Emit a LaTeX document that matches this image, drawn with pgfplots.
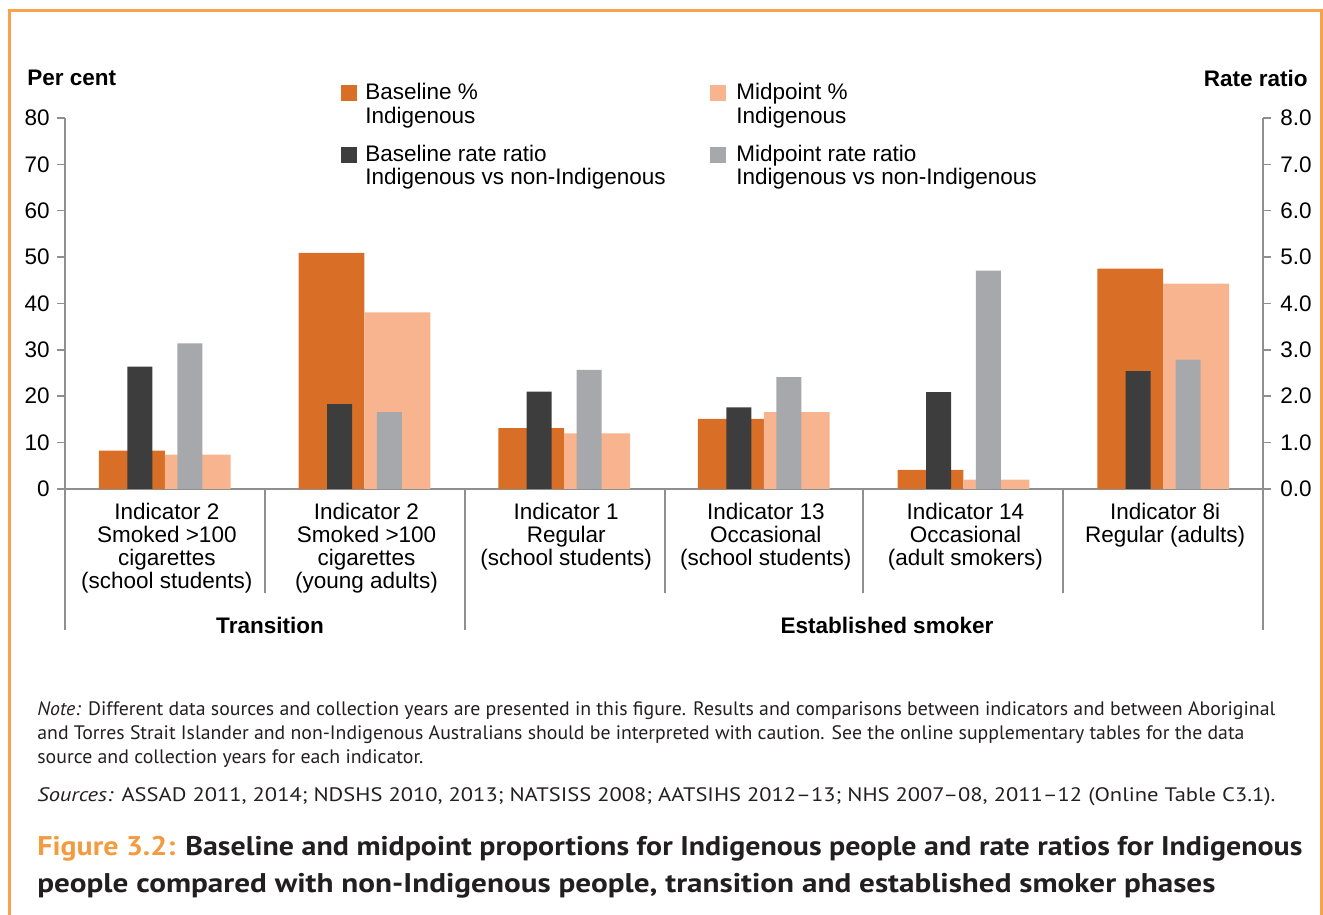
\documentclass[border=0pt]{standalone}
\usepackage{fontspec}
\setmainfont{Liberation Sans}
\newfontfamily\notefont[Ligatures=TeX]{PT Sans}
\usepackage{graphicx}
\usepackage{pgfplots}
\pgfplotsset{compat=1.18}

\definecolor{orangeB}{HTML}{D96E27}
\definecolor{peach}{HTML}{F8B48E}
\definecolor{darkbar}{HTML}{3D3D3D}
\definecolor{greybar}{HTML}{A7A8AB}
\definecolor{axisgray}{HTML}{8F8F8F}
\definecolor{frameor}{HTML}{F7A24C}
\definecolor{figorange}{HTML}{F39B3E}
\definecolor{notegray}{HTML}{231F20}

\newcommand{\cf}{\fontsize{11.25pt}{11.5pt}\selectfont}

\begin{document}
\begin{tikzpicture}
\begin{axis}[
  at={(0,0)}, anchor=south west, scale only axis,
  width=599pt, height=185.5pt,
  xmin=-0.5, xmax=5.5, ymin=0, ymax=80,
  axis x line*=bottom, axis y line*=left,
  axis line style={draw=axisgray, line width=1pt, -},
  ytick={0,10,...,80},
  xtick={0,1,2,3,4,5},
  xticklabels={{Indicator 2\\Smoked >100\\cigarettes\\(school students)},
               {Indicator 2\\Smoked >100\\cigarettes\\(young adults)},
               {Indicator 1\\Regular\\(school students)},
               {Indicator 13\\Occasional\\(school students)},
               {Indicator 14\\Occasional\\(adult smokers)},
               {Indicator 8i\\Regular (adults)}},
  x tick label style={align=center, anchor=north, inner sep=0pt, yshift=-3pt, xshift=1pt, font=\cf},
  y tick label style={anchor=east, inner sep=0pt, xshift=-3.5pt, font=\cf},
  tick align=outside, major tick length=4pt,
  y tick style={draw=axisgray, line width=0.75pt},
  x tick style={draw=none},
  /pgf/number format/assume math mode=true,
  clip=false,
]
\addplot[ybar, bar width=0.33, bar shift=-0.165, fill=orangeB, draw=none]
  coordinates {(0,8.3) (1,50.9) (2,13.1) (3,15.1) (4,4.1) (5,47.5)};
\addplot[ybar, bar width=0.33, bar shift=0.165, fill=peach, draw=none]
  coordinates {(0,7.4) (1,38.1) (2,12.0) (3,16.6) (4,2.0) (5,44.3)};
\end{axis}
\begin{axis}[
  at={(0,0)}, anchor=south west, scale only axis,
  width=599pt, height=185.5pt,
  xmin=-0.5, xmax=5.5, ymin=0, ymax=8,
  axis y line*=right, axis x line=none,
  axis line style={draw=axisgray, line width=1pt, -},
  ytick={0,1,...,8},
  y tick label style={anchor=west, inner sep=0pt, xshift=4.5pt, font=\cf,
     /pgf/number format/.cd, fixed, fixed zerofill, precision=1},
  tick align=outside, major tick length=4pt,
  y tick style={draw=axisgray, line width=0.75pt},
  /pgf/number format/assume math mode=true,
  clip=false,
]
\addplot[ybar, bar width=0.125, bar shift=-0.125, fill=darkbar, draw=none]
  coordinates {(0,2.64) (1,1.83) (2,2.10) (3,1.76) (4,2.09) (5,2.54)};
\addplot[ybar, bar width=0.125, bar shift=0.125, fill=greybar, draw=none]
  coordinates {(0,3.14) (1,1.66) (2,2.57) (3,2.41) (4,4.71) (5,2.79)};
\end{axis}

\begin{scope}[x=0.5pt, y=-0.5pt, shift={(-32.5pt,244.5pt)}]
\path[use as bounding box] (0,0) rectangle (1323,915);
% frame
\draw[frameor, line width=1.5pt] (9,915) -- (9,11) -- (1323,11);
\draw[frameor, line width=1.5pt] (1321.5,11) -- (1321.5,915);
% axis titles
\node[anchor=base west, inner sep=0pt, font=\cf\bfseries] at (27,86) {Per cent};
\node[anchor=base east, inner sep=0pt, font=\cf\bfseries] at (1308,87) {Rate ratio};
% legend
\fill[orangeB] (341,85) rectangle (357,101);
\fill[darkbar] (341,147) rectangle (357,163);
\fill[peach] (710,85) rectangle (726,101);
\fill[greybar] (710,147) rectangle (726,163);
\begin{scope}[every node/.style={anchor=base west, inner sep=0pt, font=\cf}]
\node at (365,100) {Baseline \%};
\node at (365,124) {Indigenous};
\node at (365,162) {Baseline rate ratio};
\node at (365,185) {Indigenous vs non-Indigenous};
\node at (736,100) {Midpoint \%};
\node at (736,124) {Indigenous};
\node at (736,162) {Midpoint rate ratio};
\node at (736,185) {Indigenous vs non-Indigenous};
\end{scope}
% separators
\draw[axisgray, line width=1pt] (65,489) -- (65,630);
\draw[axisgray, line width=1pt] (465,489) -- (465,630);
\draw[axisgray, line width=1pt] (1263,489) -- (1263,630);
\foreach \xx in {265,665,863,1063} \draw[axisgray, line width=1pt] (\xx,489) -- (\xx,593);
\node[anchor=base, inner sep=0pt, font=\cf\bfseries] at (270,634) {Transition};
\node[anchor=base, inner sep=0pt, font=\cf\bfseries] at (887,634) {Established smoker};
% notes
\begin{scope}[every node/.style={anchor=base west, inner sep=0pt, text=notegray, font=\notefont\fontsize{9.75pt}{11pt}\selectfont}]
\node at (37,715) {\resizebox{619pt}{\height}{\textit{Note:} Different data sources and collection years are presented in this figure. Results and comparisons between indicators and between Aboriginal}};
\node at (37,739) {\resizebox{603.5pt}{\height}{and Torres Strait Islander and non-Indigenous Australians should be interpreted with caution. See the online supplementary tables for the data}};
\node at (37,763) {\resizebox{193pt}{\height}{source and collection years for each indicator.}};
\node at (37,801) {\resizebox{619pt}{\height}{\textit{Sources:} ASSAD 2011, 2014; NDSHS 2010, 2013; NATSISS 2008; AATSIHS 2012–13; NHS 2007–08, 2011–12 (Online Table C3.1).}};
\end{scope}
\begin{scope}[every node/.style={anchor=base west, inner sep=0pt, text=notegray, font=\notefont\bfseries\fontsize{13.5pt}{16pt}\selectfont}]
\node at (37,855) {\resizebox{632.5pt}{\height}{\textcolor{figorange}{Figure 3.2:} Baseline and midpoint proportions for Indigenous people and rate ratios for Indigenous}};
\node at (37,892) {\resizebox{589pt}{\height}{people compared with non-Indigenous people, transition and established smoker phases}};
\end{scope}
\end{scope}
\end{tikzpicture}
\end{document}
